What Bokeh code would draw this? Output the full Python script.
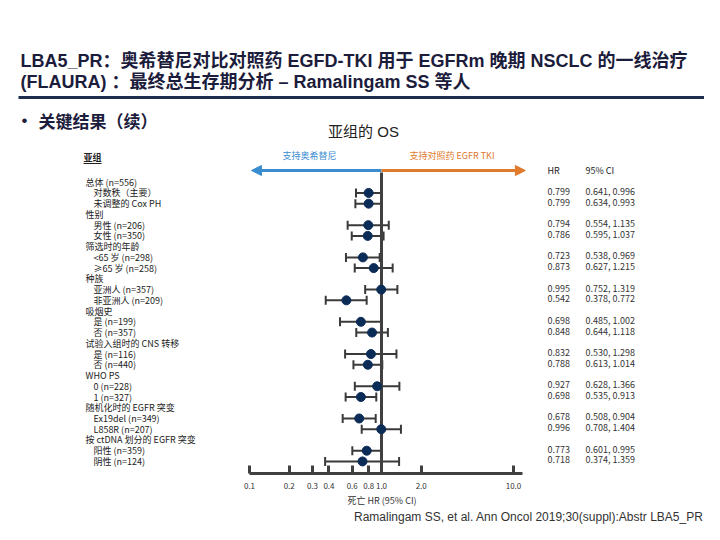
from bokeh.plotting import figure
from bokeh.models import (Range1d, FixedTicker, Whisker, TeeHead, Arrow, NormalHead,
                          Title, ColumnDataSource, LinearScale)
from bokeh.core.properties import value
from bokeh.embed import file_html
from bokeh.resources import INLINE

# ---------------- data ----------------
labels = ["总体 (n=556)", "对数秩（主要）", "未调整的 Cox PH", "性别", "男性 (n=206)", "女性 (n=350)",
          "筛选时的年龄", "<65 岁 (n=298)", "≥65 岁 (n=258)", "种族", "亚洲人 (n=357)", "非亚洲人 (n=209)",
          "吸烟史", "是 (n=199)", "否 (n=357)", "试验入组时的 CNS 转移", "是 (n=116)", "否 (n=440)",
          "WHO PS", "0 (n=228)", "1 (n=327)", "随机化时的 EGFR 突变", "Ex19del (n=349)", "L858R (n=207)",
          "按 ctDNA 划分的 EGFR 突变", "阳性 (n=359)", "阴性 (n=124)"]
indent = [0, 1, 1, 0, 1, 1, 0, 1, 1, 0, 1, 1, 0, 1, 1, 0, 1, 1, 0, 1, 1, 0, 1, 1, 0, 1, 1]

est_rows = [1, 2, 4, 5, 7, 8, 10, 11, 13, 14, 16, 17, 19, 20, 22, 23, 25, 26]
hr = [0.799, 0.799, 0.794, 0.786, 0.723, 0.873, 0.995, 0.542, 0.698, 0.848,
      0.832, 0.788, 0.927, 0.698, 0.678, 0.996, 0.773, 0.718]
ci_lo = [0.641, 0.634, 0.554, 0.595, 0.538, 0.627, 0.752, 0.378, 0.485, 0.644,
         0.530, 0.613, 0.628, 0.535, 0.508, 0.708, 0.601, 0.374]
ci_hi = [0.996, 0.993, 1.135, 1.037, 0.969, 1.215, 1.319, 0.772, 1.002, 1.118,
         1.298, 1.014, 1.366, 0.913, 0.904, 1.404, 0.995, 1.359]

ticks = [0.1, 0.2, 0.3, 0.4, 0.6, 0.8, 1.0, 2.0, 10.0]
tick_labels = ["0.1", "0.2", "0.3", "0.4", "0.6", "0.8", "1.0", "2.0", "10.0"]

title1 = "LBA5_PR：奥希替尼对比对照药 EGFD-TKI 用于 EGFRm 晚期 NSCLC 的一线治疗"
title2 = "(FLAURA) ：最终总生存期分析 – Ramalingam SS 等人"
bullet_text = "关键结果（续）"
chart_title = "亚组的 OS"
favor_left = "支持奥希替尼"
favor_right = "支持对照药 EGFR TKI"
axis_title = "死亡 HR (95% CI)"
citation = "Ramalingam SS, et al. Ann Oncol 2019;30(suppl):Abstr LBA5_PR"

# ---------------- layout constants (picture pixels) ----------------
W, FH = 704, 473
BOTTOM_PX = FH
ROW0, STEP = 181.7, 10.74
X01_PX, DEC_PX = 249.0, 132.0

CJK = "Noto Sans CJK SC"
MIX = "Liberation Sans, Noto Sans CJK SC"
NAVY = "#1c1c3c"
BLUE = "#3a8ccf"
ORANGE = "#e07a2c"
GREY = "#404040"
TXT = "#222222"

x_lo = 10 ** (-1 - X01_PX / DEC_PX)
x_hi = 10 ** (-1 + (W - X01_PX) / DEC_PX)
y_bottom = (BOTTOM_PX - ROW0) / STEP
y_top = (0 - ROW0) / STEP

p = figure(frame_width=W, frame_height=FH, x_axis_type="log",
           x_range=Range1d(x_lo, x_hi), y_range=Range1d(y_bottom, y_top),
           y_axis_location=None, toolbar_location=None, output_backend="svg",
           min_border_left=0, min_border_right=0, min_border_top=0, min_border_bottom=10,
           outline_line_color=None, background_fill_color="white", border_fill_color="white")
p.grid.visible = False
p.extra_x_ranges = {"px": Range1d(0, W)}
p.extra_x_scales = {"px": LinearScale()}
p.extra_y_ranges = {"py": Range1d(BOTTOM_PX, 0)}
p.extra_y_scales = {"py": LinearScale()}

# ---------------- header texts ----------------
p.text(x=[20, 20], y=[60, 81], text=[title1, title2], x_range_name="px", y_range_name="py",
       text_font=value(MIX), text_font_size="18px", text_font_style="bold",
       text_color=NAVY, text_baseline="middle")
p.segment(x0=[18], y0=[97], x1=[W], y1=[97], x_range_name="px", y_range_name="py",
          line_color="#1f2d4d", line_width=3)
p.text(x=[21], y=[120], text=["•"], x_range_name="px", y_range_name="py",
       text_font=value(MIX), text_font_size="17px", text_color=NAVY, text_baseline="middle")
p.text(x=[38], y=[120], text=[bullet_text], x_range_name="px", y_range_name="py",
       text_font=value(CJK), text_font_size="17px", text_font_style="bold",
       text_color=NAVY, text_baseline="middle")
p.text(x=[363], y=[131], text=[chart_title], x_range_name="px", y_range_name="py",
       text_font=value(MIX), text_font_size="15px", text_color=TXT,
       text_baseline="middle", text_align="center")

# favour labels and arrows
p.text(x=[282], y=[155], text=[favor_left], x_range_name="px", y_range_name="py",
       text_font=value(CJK), text_font_size="9px", text_color=BLUE, text_baseline="middle")
p.text(x=[409], y=[155], text=[favor_right], x_range_name="px", y_range_name="py",
       text_font=value(CJK), text_font_size="9px", text_color=ORANGE, text_baseline="middle")
p.add_layout(Arrow(x_start=1.0, y_start=170, x_end=0.1035, y_end=170, y_range_name="py",
                   line_color=BLUE, line_width=3,
                   end=NormalHead(size=10, fill_color=BLUE, line_color=BLUE)))
p.add_layout(Arrow(x_start=1.0, y_start=170, x_end=12.3, y_end=170, y_range_name="py",
                   line_color=ORANGE, line_width=3,
                   end=NormalHead(size=10, fill_color=ORANGE, line_color=ORANGE)))

# column headers
p.text(x=[83], y=[157], text=["亚组"], x_range_name="px", y_range_name="py",
       text_font=value(CJK), text_font_size="9px", text_font_style="bold",
       text_color=TXT, text_baseline="middle")
p.segment(x0=[83], y0=[163], x1=[101], y1=[163], x_range_name="px", y_range_name="py",
          line_color=TXT, line_width=1)
p.text(x=[547, 585], y=[170, 170], text=["HR", "95% CI"], x_range_name="px", y_range_name="py",
       text_font=value(CJK), text_font_size="9px", text_color=TXT, text_baseline="middle")

# row labels
rows_all = list(range(len(labels)))
label_x = [85 if i == 0 else 93 for i in indent]
p.text(x=label_x, y=rows_all, text=labels, x_range_name="px",
       text_font=value(CJK), text_font_size="9px", text_color=TXT, text_baseline="middle")

# HR / CI text columns
hr_txt = [f"{v:.3f}" for v in hr]
ci_txt = [f"{a:.3f}, {b:.3f}" for a, b in zip(ci_lo, ci_hi)]
p.text(x=[547] * len(hr), y=est_rows, text=hr_txt, x_range_name="px", y_offset=-1.5,
       text_font=value(CJK), text_font_size="9px", text_color="#333333", text_baseline="middle")
p.text(x=[585] * len(hr), y=est_rows, text=ci_txt, x_range_name="px", y_offset=-1.5,
       text_font=value(CJK), text_font_size="9px", text_color="#333333", text_baseline="middle")

# reference line at HR = 1
p.segment(x0=[1.0], y0=[172], x1=[1.0], y1=[BOTTOM_PX], y_range_name="py",
          line_color=GREY, line_width=3)

# CIs and estimates
src = ColumnDataSource(dict(y=est_rows, hr=hr, lo=ci_lo, hi=ci_hi))
p.add_layout(Whisker(source=src, base="y", lower="lo", upper="hi", dimension="width",
                     line_color="#3a3a3a", line_width=2, level="underlay",
                     upper_head=TeeHead(size=9, line_color="#3a3a3a", line_width=2),
                     lower_head=TeeHead(size=9, line_color="#3a3a3a", line_width=2)))
p.scatter(x="hr", y="y", source=src, size=9, fill_color="#0c2c58", line_color="#0c2c58")

# x axis
ax = p.xaxis[0]
ax.ticker = FixedTicker(ticks=ticks, minor_ticks=[])
ax.major_label_overrides = {t: s for t, s in zip(ticks, tick_labels)}
ax.bounds = (0.1, 11.6)
ax.axis_line_color = GREY
ax.axis_line_width = 3
ax.major_tick_line_color = GREY
ax.major_tick_line_width = 3
ax.major_tick_in = 8
ax.major_tick_out = 0
ax.minor_tick_line_color = None
ax.major_label_text_font = CJK
ax.major_label_text_font_size = "8px"
ax.major_label_text_color = "#333333"
ax.major_label_standoff = 9

p.add_layout(Title(text=axis_title, align="left", offset=347, standoff=0,
                   text_font=CJK, text_font_size="9px", text_font_style="normal",
                   text_color="#333333"), "below")
p.add_layout(Title(text=citation, align="right", offset=1, standoff=2,
                   text_font="Liberation Sans", text_font_size="12px", text_font_style="normal",
                   text_color="#333333"), "below")

open("out.html", "w").write(file_html(p, INLINE))
